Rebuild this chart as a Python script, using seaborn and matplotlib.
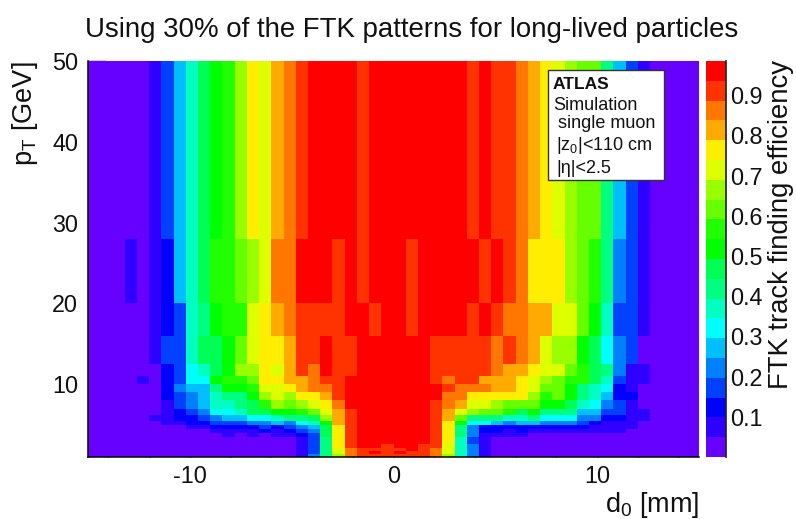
import numpy as np
import pandas as pd
import seaborn as sns
import matplotlib
matplotlib.use("Agg")
import matplotlib.pyplot as plt
from matplotlib.colors import ListedColormap
from matplotlib.patches import Rectangle

band_colors = ["#6600ff", "#2f00ff", "#0000ff", "#0040ff", "#0080ff", "#00bfff", "#00ffff",
               "#00ffc0", "#00ff80", "#00ff55", "#00ff00", "#22ff00", "#66ff00", "#99ff00",
               "#ddff00", "#ffee00", "#ffaa00", "#ff7700", "#ff3300", "#ff0000"]
band_width = 0.04925

pt_edges = [1, 1.35, 1.75, 2.15, 2.65, 3.45, 4, 4.5, 5, 5.5, 6.25, 7, 8, 9, 10, 11, 12.5, 16, 20, 28, 50]

# efficiency band (0-19) per d0 bin, from -15 to 15 mm in 50 bins, low pT first
r01 = [0]*17 + [1,4,8,13,17,18,18,18, 18,18,18,17,13,7,4,1] + [0]*17
r02 = [0]*17 + [1,3,8,14,17,18,19,18, 19,18,18,17,14,7,4,1] + [0]*17
r03 = [0]*17 + [1,3,8,14,17,18,18,18, 18,19,18,17,14,7,4,1] + [0]*17
r04 = [0]*17 + [1,3,8,15,18,19,19,18, 19,19,18,18,14,7,4,1] + [0]*17
r05 = [0]*17 + [1,3,8,15,18,19,19,19, 19,19,19,18,15,7,3,1] + [0]*17
r06 = [0]*11 + [1,0,1,0,1,1,2,3,9,15,18,19,19,19, 19,19,19,18,15,8,4,1,1,1,1] + [0]*14
r07 = [0]*10 + [1,1,1,1,2,1,2,3,4,9,15,18,19,19,19, 19,19,19,18,15,8,4,2,2,1,2,1,1,1,1,1,1,1,1] + [0]*6
r08 = [0,0,0,0,0,0,0,0,1,1,2,2,2,2,3,2,3,4,5,9,15,18,19,19,19, 19,19,19,18,15,8,4,2,2,2,2,2,2,2,2,2,1,1,1,1,0,0,0,0,0]
r09 = [0,0,0,0,0,0,1,1,2,2,3,3,3,4,4,5,4,6,7,10,16,18,19,19,19, 19,19,19,18,15,10,6,6,5,4,5,5,4,4,4,3,2,1,1,1,0,0,0,0,0]
r10 = [0,0,0,0,0,1,1,2,2,3,4,5,5,6,6,7,8,8,9,13,16,18,19,19,19, 19,19,19,18,16,12,8,8,8,7,7,8,6,6,6,4,4,2,2,1,1,0,0,0,0]
r11 = [0,0,0,0,0,0,1,2,3,4,6,6,7,9,9,10,10,11,12,14,16,18,19,19,19, 19,19,19,18,16,14,13,12,12,11,9,10,8,8,8,5,5,3,3,1,1,0,0,0,0]
r12 = [0,0,0,0,0,0,1,3,4,5,7,7,8,9,11,13,12,13,14,15,17,19,19,19,19, 19,19,19,18,17,16,14,14,13,12,12,12,10,10,9,7,6,4,3,1,0,0,0,0,0]
r13 = [0,0,0,0,0,0,2,3,4,5,7,8,8,10,13,14,13,15,15,16,18,19,19,19,19, 19,19,19,19,17,17,15,15,15,15,15,13,11,12,10,8,7,5,2,2,0,0,0,0,0]
r14 = [0,0,0,0,0,0,2,4,5,5,8,10,10,11,14,14,15,16,17,17,18,19,19,19,19, 19,19,19,19,18,17,17,17,16,16,15,14,12,12,10,8,7,6,2,1,0,0,0,0,0]
r15 = [0,0,0,0,1,0,2,3,6,6,10,11,11,12,15,15,16,16,17,18,18,19,19,19,19, 19,19,19,18,17,18,18,16,16,16,15,14,13,12,11,11,9,7,3,1,1,0,0,0,0]
r16 = [0,0,0,0,0,0,2,3,6,7,9,10,13,13,15,14,16,18,17,19,18,18,19,19,19, 19,19,19,18,18,18,18,18,17,16,16,15,14,14,12,11,9,8,4,1,1,0,0,0,0]
r17 = [0,0,0,0,0,1,3,3,7,9,9,10,12,14,15,15,16,18,18,19,18,18,19,19,19, 19,19,19,18,18,18,18,18,17,18,17,16,14,13,13,10,9,6,4,3,0,0,0,0,0]
r18 = [0,0,0,0,0,1,2,3,7,8,10,11,11,14,15,16,17,18,18,18,18,19,19,18,19, 19,18,19,19,19,19,18,19,18,17,17,16,16,14,14,12,10,7,3,3,1,0,0,0,0]
r19 = [0,0,0,1,0,1,2,5,7,9,11,11,12,13,14,17,17,19,19,19,18,19,18,19,19, 19,18,19,19,19,19,19,18,19,18,17,15,15,15,13,12,11,8,4,3,1,0,0,0,0]
r20 = [0,0,0,0,0,1,3,5,7,9,10,11,13,15,14,16,17,18,19,19,19,19,18,19,19, 19,19,19,19,19,19,18,19,18,18,17,16,15,14,13,12,12,8,5,3,1,0,0,0,0]
rows = [r01, r02, r03, r04, r05, r06, r07, r08, r09, r10, r11, r12, r13, r14, r15, r16, r17, r18, r19, r20]

x_major = [-10, 0, 10]
x_labels = ["-10", "0", "10"]
y_major = [10, 20, 30, 40, 50]
cbar_ticks = [0.1, 0.2, 0.3, 0.4, 0.5, 0.6, 0.7, 0.8, 0.9]
title = "Using 30% of the FTK patterns for long-lived particles"
box_lines = ["Simulation", " single muon", "|z$_{0}$|<110 cm", "|η|<2.5"]

W, H = 796, 519
L, R, T, B = 88, 699, 61, 457
sns.set_theme(style="white")
plt.rcParams.update({
    "font.family": ["Liberation Sans", "DejaVu Sans"],
    "mathtext.fontset": "custom",
    "mathtext.rm": "Liberation Sans",
    "mathtext.it": "Liberation Sans",
    "mathtext.default": "regular",
    "text.color": "#111111",
})

fig = plt.figure(figsize=(W/100, H/100), dpi=100)
ax = fig.add_axes([L/W, 1-B/H, (R-L)/W, (B-T)/H])
cax = fig.add_axes([706/W, 1-B/H, 19.5/W, (B-T)/H])

# fine uniform pT grid so that the variable-width bins keep their true size
dy = 0.05
repeats = np.rint(np.diff(pt_edges)/dy).astype(int)
bands = np.repeat(np.array(rows), repeats, axis=0)
eff = pd.DataFrame((bands + 0.5)*band_width)
ny = eff.shape[0]
dx = 0.6

sns.heatmap(eff, ax=ax, cbar_ax=cax, cmap=ListedColormap(band_colors), vmin=0, vmax=20*band_width,
            xticklabels=False, yticklabels=False, rasterized=True,
            cbar_kws={"ticks": cbar_ticks})
ax.set_ylim(0, ny)
ax.set_xlim(0, 50)
for s in ["left", "bottom"]:
    ax.spines[s].set_visible(True)
    ax.spines[s].set_color("black")
    ax.spines[s].set_linewidth(1.1)
for s in ["top", "right"]:
    ax.spines[s].set_visible(False)

xp = lambda v: (np.asarray(v, float) + 15)/dx
yp = lambda v: (np.asarray(v, float) - 1)/dy
ax.set_xticks(xp(x_major))
ax.set_xticklabels(x_labels)
ax.set_xticks(xp(np.arange(-14, 15, 2)), minor=True)
ax.set_yticks(yp(y_major))
ax.set_yticklabels([str(v) for v in y_major])
ax.set_yticks(yp(np.arange(2, 50, 2)), minor=True)
ax.tick_params(axis="both", which="major", direction="in", length=12.2, width=1.0, color="black",
               labelsize=16.8, labelcolor="#111111", bottom=True, left=True)
ax.tick_params(axis="both", which="minor", direction="in", length=6, width=1.0, color="black",
               bottom=True, left=True)
ax.tick_params(axis="x", which="major", pad=6)
ax.tick_params(axis="y", which="major", pad=7)

cbar = ax.collections[0].colorbar
cax.tick_params(axis="y", which="both", direction="in", length=12.2, width=1.0, color="black",
                labelsize=16.8, labelcolor="#111111", right=True, pad=3)
cax.spines["right"].set_visible(True)
cbar.outline.set_visible(False)
cax.axvline(1, color="#444444", lw=1.0)

fig.text(85/W, 1-30/H, title, fontsize=19.9, ha="left", va="center")
fig.text(699/W, 1-512/H, "d$_{0}$ [mm]", fontsize=19.5, ha="right", va="baseline")
fig.text(40/W, 1-61/H, "p$_{T}$ [GeV]", fontsize=19.5, rotation=90, ha="right", va="top")
fig.text(781/W, 1-60/H, "FTK track finding efficiency", fontsize=19.8, rotation=90, ha="center", va="top")

fig.add_artist(Rectangle((547.5/W, 1-180/H), 116.5/W, 110/H, transform=fig.transFigure,
                         facecolor="white", edgecolor="#333333", linewidth=1.0, zorder=5))
fig.text(553/W, 1-85/H, "ATLAS", fontsize=12.5, fontweight="bold", ha="left", va="center", zorder=6)
for txt, yy, xx in zip(box_lines, [105, 124, 146, 168], [553, 553, 556, 556]):
    fig.text(xx/W, 1-yy/H, txt, fontsize=13, ha="left", va="center", zorder=6)

fig.savefig("out.png", dpi=100)
